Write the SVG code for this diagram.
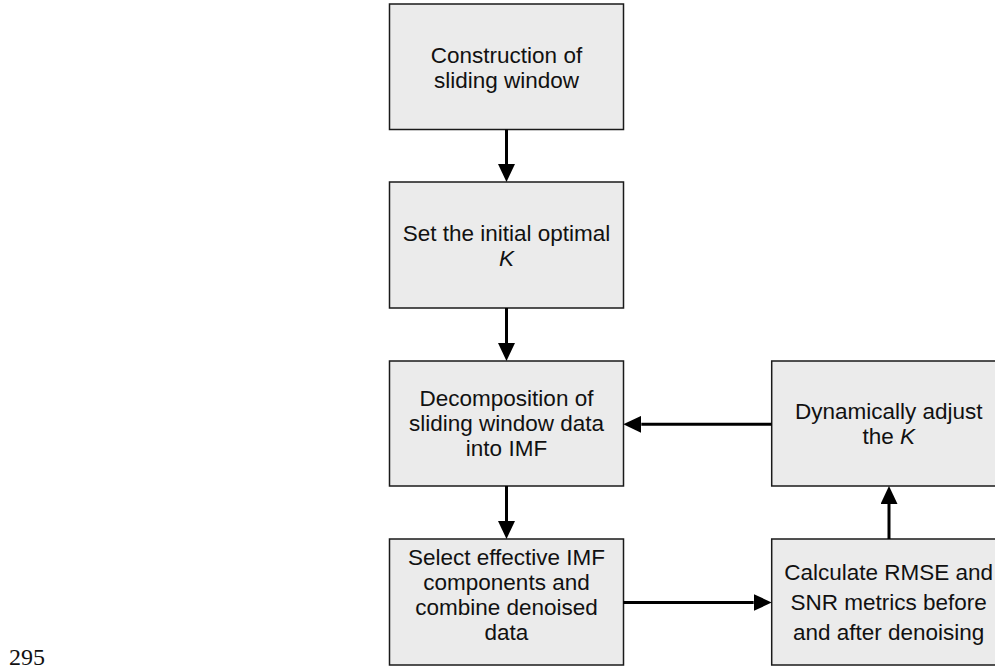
<svg xmlns="http://www.w3.org/2000/svg" width="995" height="669" viewBox="0 0 995 669">
<style>
.box{fill:#ebebeb;stroke:#1a1a1a;stroke-width:1.5}
.t{font-family:"Liberation Sans",Arial,sans-serif;font-size:22.5px;fill:#111;text-anchor:middle}
.c{stroke:#000;stroke-width:3;fill:none}
</style>
<defs>
<marker id="ah" markerUnits="userSpaceOnUse" markerWidth="18" markerHeight="17" refX="0" refY="8.5" orient="auto">
<path d="M0,0 L18,8.5 L0,17 z" fill="#000"/>
</marker>
</defs>
<rect width="995" height="669" fill="#fff"/>
<g id="n1">
<rect class="box" x="389.5" y="4" width="234" height="125.5"/>
<text class="t" x="506.5" y="62.5">Construction of</text>
<text class="t" x="506.5" y="87.5">sliding window</text>
</g>
<g id="n2">
<rect class="box" x="389.5" y="182" width="234" height="126"/>
<text class="t" x="506.5" y="240.5">Set the initial optimal</text>
<text class="t" x="506.5" y="265.5" font-style="italic">K</text>
</g>
<g id="n3">
<rect class="box" x="389.5" y="361" width="234" height="125"/>
<text class="t" x="506.5" y="406">Decomposition of</text>
<text class="t" x="506.5" y="431">sliding window data</text>
<text class="t" x="506.5" y="456">into IMF</text>
</g>
<g id="n4">
<rect class="box" x="771.7" y="361" width="234" height="125"/>
<text class="t" x="888.7" y="419">Dynamically adjust</text>
<text class="t" x="888.7" y="444">the <tspan font-style="italic">K</tspan></text>
</g>
<g id="n5">
<rect class="box" x="389.5" y="539" width="234" height="126"/>
<text class="t" x="506.5" y="565">Select effective IMF</text>
<text class="t" x="506.5" y="590">components and</text>
<text class="t" x="506.5" y="615">combine denoised</text>
<text class="t" x="506.5" y="640">data</text>
</g>
<g id="n6">
<rect class="box" x="771.7" y="539" width="234" height="126"/>
<text class="t" x="888.7" y="580">Calculate RMSE and</text>
<text class="t" x="888.7" y="610">SNR metrics before</text>
<text class="t" x="888.7" y="640">and after denoising</text>
</g>
<g id="connectors">
<line class="c" x1="506.5" y1="129.5" x2="506.5" y2="164" marker-end="url(#ah)"/>
<line class="c" x1="506.5" y1="308" x2="506.5" y2="343" marker-end="url(#ah)"/>
<line class="c" x1="506.5" y1="486" x2="506.5" y2="521" marker-end="url(#ah)"/>
<line class="c" x1="771.7" y1="424.3" x2="641.3" y2="424.3" marker-end="url(#ah)"/>
<line class="c" x1="623.3" y1="602.5" x2="753.7" y2="602.5" marker-end="url(#ah)"/>
<line class="c" x1="889" y1="539" x2="889" y2="504" marker-end="url(#ah)"/>
</g>
<text x="9" y="665" font-family="'Liberation Serif','Times New Roman',serif" font-size="24" fill="#111">295</text>
</svg>
